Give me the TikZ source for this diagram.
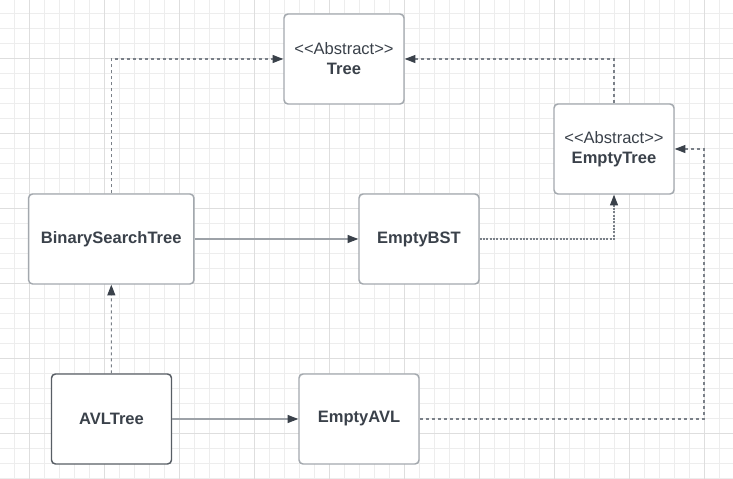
\documentclass[tikz,border=0pt]{standalone}
\usepackage{xcolor}
\usepackage{fontspec}
\usepackage[]{tikz}
\usetikzlibrary{arrows.meta}

\newfontfamily\lucid{Liberation Sans}
\definecolor{ink}{HTML}{3A414A}
\definecolor{boxline}{HTML}{A3A8AE}
\definecolor{wire}{HTML}{9DA2A8}
\definecolor{dashgray}{HTML}{7A8088}
\definecolor{minorgrid}{HTML}{EDEDED}
\definecolor{majorgrid}{HTML}{DEDEDE}

\begin{document}
\begin{tikzpicture}[x=0.75pt,y=-0.75pt]
                \useasboundingbox (0,0) rectangle (733,479);
                \fill[white] (0,0) rectangle (733,479);
                % grid paper
                \foreach \x in {14.5,29.5,...,733}
                    \draw[minorgrid,line width=0.75pt] (\x,0) -- (\x,479);
                \foreach \y in {13.5,28.5,...,479}
                    \draw[minorgrid,line width=0.75pt] (0,\y) -- (733,\y);
                \foreach \x in {29.5,104.5,...,733}
                    \draw[majorgrid,line width=0.75pt] (\x,0) -- (\x,479);
                \foreach \y in {58.5,133.5,...,479}
                    \draw[majorgrid,line width=0.75pt] (0,\y) -- (733,\y);
                \begin{scope}[every node/.style={rectangle,rounded corners=3pt,draw=boxline,line width=1.1pt,fill=white,
                    minimum width=90pt,minimum height=67.5pt,inner sep=0pt,align=center,text=ink,
                    font=\lucid\fontsize{12.4}{15}\selectfont}]
                    \node (tree) at (344,59) {<<Abstract>>\\\textbf{Tree}};
                    \node (etree) at (614,149) {<<Abstract>>\\\textbf{EmptyTree}};
                    \node[minimum width=124pt] (bst) at (111.25,239) {\textbf{BinarySearchTree}};
                    \node (ebst) at (419,239) {\textbf{EmptyBST}};
                    \node[draw=ink!85] (avl) at (111.5,419) {\textbf{AVLTree}};
                    \node (eavl) at (359,419) {\textbf{EmptyAVL}};
                \end{scope}
                \begin{scope}[>={Triangle[length=8pt,width=6pt,color=ink]},
                    uses/.style={draw=wire,line width=0.9pt,->},
                    implements/.style={draw=dashgray,line width=0.8pt,dash pattern=on 2.25pt off 2.25pt,->},
                    implementsdot/.style={draw=dashgray,line width=0.8pt,dash pattern=on 1.4pt off 1.1pt,->}]
                    \coordinate (bend) at (704,419);
                    \draw[implements] (bst.north) |- (tree.west);
                    \draw[implements] (etree.north) |- (tree.east);
                    \draw[uses] (bst) -- (ebst);
                    \draw[implementsdot] (ebst) -| (etree);
                    \draw[implements] (avl) -- (bst);
                    \draw[uses] (avl) -- (eavl);
                    \draw[implements] (eavl) -- (bend) |- (etree);
                \end{scope}
            \end{tikzpicture}
\end{document}
